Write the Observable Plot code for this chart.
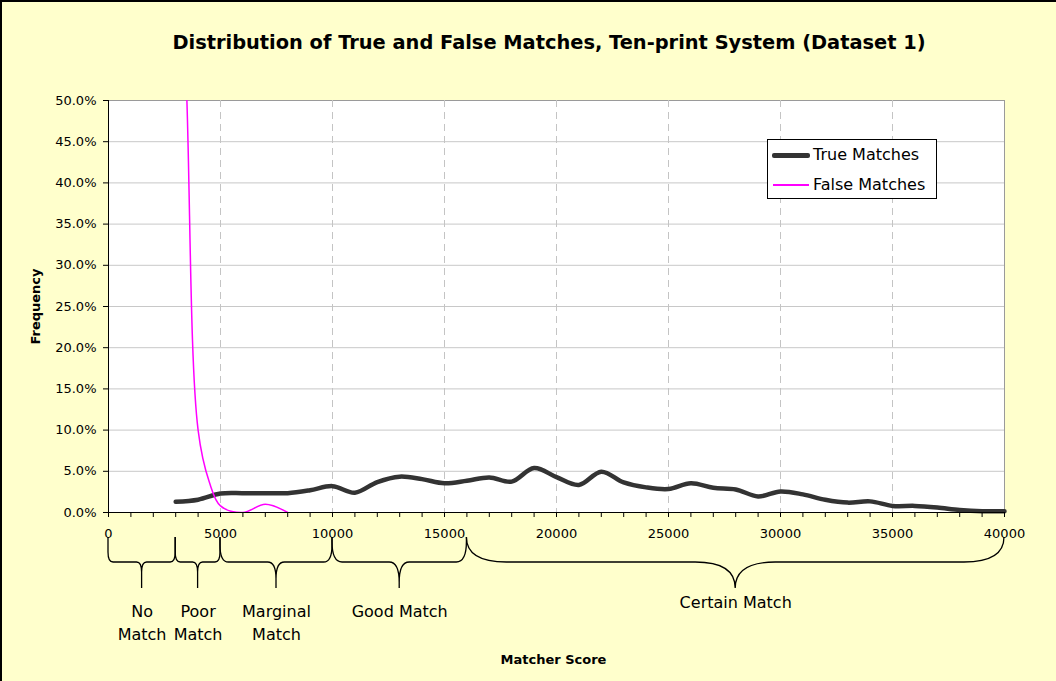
<!DOCTYPE html>
<html>
<head>
<meta charset="utf-8">
<script src="https://cdn.jsdelivr.net/npm/d3@7"></script>
<script src="https://cdn.jsdelivr.net/npm/@observablehq/plot@0.6"></script>
<style>
  html, body { margin: 0; padding: 0; background: #FFFFCC; }
  #wrap { position: relative; width: 1056px; height: 681px; background: #FFFFCC; overflow: hidden; font-family: "DejaVu Sans", sans-serif; }
  #border { position: absolute; left: 0; top: 0; width: 1056px; height: 681px; box-sizing: border-box; border-top: 2px solid #000; border-left: 2px solid #000; pointer-events: none; z-index: 5; }
  #title { position: absolute; left: 549px; top: 33px; transform: translateX(-50%); white-space: nowrap; font-size: 19.4px; line-height: 19.4px; font-weight: bold; color: #000; }
  #chart { position: absolute; left: 0; top: 80px; }
  #legend { position: absolute; left: 767px; top: 139px; width: 170px; height: 60px; box-sizing: border-box; border: 1px solid #000; background: #fff; z-index: 3; }
  .sw { position: absolute; }
  .lt { position: absolute; font-size: 16px; line-height: 16px; color: #000; white-space: nowrap; }
</style>
</head>
<body>
<div id="wrap">
  <div id="title">Distribution of True and False Matches, Ten-print System (Dataset 1)</div>
  <div id="chart"></div>
  <div id="legend">
    <div class="sw" style="left:4px;top:12.5px;width:38px;height:5px;background:#333333;border-radius:2px;"></div>
    <div class="lt" style="left:45px;top:7px;">True Matches</div>
    <div class="sw" style="left:5px;top:44.3px;width:36px;height:1.5px;background:#FF00FF;"></div>
    <div class="lt" style="left:45px;top:37px;">False Matches</div>
  </div>
  <div id="border"></div>
</div>
<script>
// ---- data ----
const trueScore = [3000, 4000, 5000, 6000, 7000, 8000, 9000, 10000, 11000, 12000, 13000, 14000, 15000, 16000, 17000, 18000, 19000, 20000, 21000, 22000, 23000, 24000, 25000, 26000, 27000, 28000, 29000, 30000, 31000, 32000, 33000, 34000, 35000, 36000, 37000, 38000, 39000, 40000];
const trueFreq  = [0.013, 0.0155, 0.023, 0.0235, 0.0235, 0.0235, 0.027, 0.032, 0.024, 0.037, 0.0435, 0.0405, 0.0355, 0.0385, 0.0425, 0.0375, 0.054, 0.043, 0.0335, 0.0495, 0.0365, 0.0305, 0.0285, 0.0355, 0.030, 0.028, 0.0195, 0.0255, 0.022, 0.0155, 0.012, 0.0135, 0.008, 0.008, 0.006, 0.003, 0.0015, 0.0015];

const falseScore = [3000, 3500, 4000, 4500, 5000, 6000, 7000, 8000];
const falseFreq  = [0.98, 0.50, 0.10, 0.037, 0.008, 0.0, 0.010, 0.0];

const yTicks = [0, 0.05, 0.10, 0.15, 0.20, 0.25, 0.30, 0.35, 0.40, 0.45, 0.50];
const xMajor = [0, 5000, 10000, 15000, 20000, 25000, 30000, 35000, 40000];
const xMinor = [1000, 2000, 3000, 4000, 6000, 7000, 8000, 9000, 11000, 12000, 13000, 14000, 16000, 17000, 18000, 19000, 21000, 22000, 23000, 24000, 26000, 27000, 28000, 29000, 31000, 32000, 33000, 34000, 36000, 37000, 38000, 39000];

const bandStart = [0, 3000, 5000, 10000, 16000];
const bandEnd   = [3000, 5000, 10000, 16000, 40000];
const bandLabel = ["No\nMatch", "Poor\nMatch", "Marginal\nMatch", "Good Match", "Certain Match"];

// ---- tables built from the arrays ----
const trueData = trueScore.map((x, i) => ({x, y: trueFreq[i]}));
const falseData = falseScore.map((x, i) => ({x, y: falseFreq[i]}));
const bands = bandStart.map((s, i) => ({start: s, end: bandEnd[i], label: bandLabel[i], mid: (s + bandEnd[i]) / 2, big: (bandEnd[i] - s) > 10000}));

// custom mark: curly braces under the x axis, positioned via the x scale
function braces(index, scales, values, dimensions) {
  const g = d3.create("svg:g").attr("fill", "none").attr("stroke", "#000").attr("stroke-width", 1.3);
  const y0 = dimensions.height - dimensions.marginBottom;
  const top = y0 + 25, h = y0 + 50, tip = y0 + 76;
  for (const b of bands) {
    const x0 = scales.x(b.start), x1 = scales.x(b.end), xm = scales.x(b.mid);
    const w = x1 - x0;
    const r = Math.max(5, Math.min(40, w * 0.075));
    const ry = Math.min(h - top, r * 2);
    const ry2 = Math.min(tip - h, r * 2);
    const p = `M${x0},${top} L${x0},${h - ry} Q${x0},${h} ${x0 + r},${h} L${xm - r},${h} Q${xm},${h} ${xm},${h + ry2} L${xm},${tip} ` +
              `M${xm},${h + ry2} Q${xm},${h} ${xm + r},${h} L${x1 - r},${h} Q${x1},${h} ${x1},${h - ry} L${x1},${top}`;
    g.append("path").attr("d", p);
  }
  return g.node();
}

const chart = Plot.plot({
  width: 1056,
  height: 601,
  marginTop: 20,
  marginBottom: 169,
  marginLeft: 108,
  marginRight: 52,
  style: {fontFamily: '"DejaVu Sans", sans-serif', background: "transparent", color: "#000", overflow: "visible"},
  x: {domain: [0, 40000]},
  y: {domain: [0, 0.5]},
  marks: [
    Plot.frame({fill: "white", stroke: "#9a9a9a"}),
    Plot.gridY(yTicks.filter(v => v > 0 && v < 0.5), {stroke: "#c8c8c8", strokeOpacity: 1}),
    Plot.gridX(xMajor.filter(v => v > 0 && v < 40000), {stroke: "#c4c4c4", strokeOpacity: 1, strokeDasharray: "7,5"}),
    Plot.line(trueData, {x: "x", y: "y", stroke: "#333333", strokeWidth: 4.5, curve: "catmull-rom", strokeLinecap: "round", strokeLinejoin: "round"}),
    Plot.line(falseData, {x: "x", y: "y", stroke: "#FF00FF", strokeWidth: 1.5, curve: "catmull-rom", clip: true}),
    Plot.ruleX([0], {stroke: "#000"}),
    Plot.ruleY([0], {stroke: "#000"}),
    Plot.axisY(yTicks, {tickFormat: d3.format(".1%"), tickSize: 5, tickPadding: 7, fontSize: 13, label: null, stroke: "#000"}),
    Plot.axisX(xMinor, {tickSize: 5, tickFormat: () => "", label: null, stroke: "#000"}),
    Plot.axisX(xMajor, {tickSize: 5, tickPadding: 11, fontSize: 13, tickFormat: d => String(d), label: null, stroke: "#000"}),
    braces,
    Plot.text(bands.filter(d => !d.big), {x: "mid", text: "label", frameAnchor: "bottom", lineAnchor: "top", dy: 89, lineHeight: 1.4, fontSize: 16, fill: "#000"}),
    Plot.text(bands.filter(d => d.big), {x: "mid", text: "label", frameAnchor: "bottom", lineAnchor: "top", dy: 80, lineHeight: 1.4, fontSize: 16, fill: "#000"}),
    Plot.text(["Frequency"], {text: d => d, frameAnchor: "left", textAnchor: "middle", dx: -73, rotate: -90, fontWeight: "bold", fontSize: 13, fill: "#000"}),
    Plot.text(["Matcher Score"], {text: d => d, frameAnchor: "bottom", dx: -3, dy: 151, fontWeight: "bold", fontSize: 13, fill: "#000"})
  ]
});
document.getElementById("chart").appendChild(chart);
</script>
</body>
</html>
